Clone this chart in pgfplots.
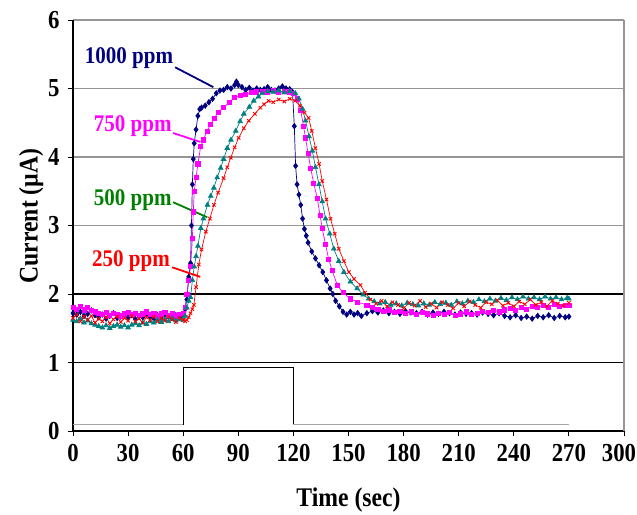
\documentclass[border=0pt]{standalone}
\usepackage{fontspec}
\setmainfont{Liberation Serif}[FakeStretch=0.88]
\usepackage{pgfplots}
\pgfplotsset{compat=1.18}
\definecolor{navyc}{RGB}{0,0,128}
\definecolor{magc}{RGB}{255,0,255}
\definecolor{tealc}{RGB}{0,128,128}
\definecolor{greenc}{RGB}{0,128,0}
\definecolor{redc}{RGB}{255,0,0}
\definecolor{gridc}{RGB}{150,150,150}
\begin{document}
\begin{tikzpicture}
\begin{axis}[name=ax, scale only axis, width=551bp, height=411bp,
 xmin=0,xmax=300,ymin=0,ymax=6,
 xtick={0,30,...,270}, ytick={0,1,...,6},
 extra x ticks={300},
 extra x tick style={xticklabel style={xshift=-5bp}},
 axis lines=left, axis line style={-, line width=1.4pt, black},
 tick align=outside, major tick length=5bp, tick style={black, line width=1pt},
 ymajorgrids, major grid style={gridc, line width=1.3pt},
 /pgf/number format/assume math mode=true,
 tick label style={font=\fontsize{26}{26}\selectfont\bfseries},
 xticklabel style={yshift=-5bp},
 yticklabel style={xshift=-5bp},
 xlabel={Time (sec)}, ylabel={Current (µA)},
 label style={font=\fontsize{27}{27}\selectfont\bfseries},
 xlabel style={at={(axis description cs:0.5,-0.168)}, anchor=center},
 ylabel style={at={(axis description cs:-0.076,0.523)}, anchor=center},
 clip=false,
]
\draw[black, line width=1.6pt] (axis cs:0,1) -- (axis cs:300,1);
\draw[black, line width=1.6pt] (axis cs:0,2) -- (axis cs:300,2);
\draw[gridc, line width=1.3pt] (axis cs:300,0) -- (axis cs:300,6);
% stimulus
\addplot[gray!70, line width=1.3pt] coordinates {(0,0.09)(60,0.09)};
\addplot[black, line width=1.3pt] coordinates {(60,0.09)(60,0.93)(120,0.93)(120,0.09)};
\addplot[gray!70, line width=1.3pt] coordinates {(120,0.09)(270,0.09)};
% 1000 ppm
\addplot[navyc, line width=0.7pt, mark=diamond*, mark size=2.7pt, mark options={solid, fill=navyc}] coordinates {
(0,1.72)(2,1.70)(4,1.74)(6,1.68)(8,1.71)(10,1.76)(12,1.69)(14,1.66)(16,1.70)(18,1.64)(20,1.68)(22,1.72)(24,1.65)(26,1.67)(28,1.70)(30,1.66)(32,1.69)(34,1.63)(36,1.68)(38,1.66)(40,1.70)(42,1.67)(44,1.64)(46,1.69)(48,1.66)(50,1.70)(52,1.67)(54,1.65)(56,1.69)(58,1.66)(60,1.70)
(61,1.78)(62,1.92)(63,2.25)(64,2.45)(64.5,3.0)(65,3.6)(65.5,3.97)(66,4.2)(67,4.4)(68,4.6)(69,4.7)(70,4.72)(72,4.75)(74,4.8)(76,4.85)(78,4.93)(80,4.97)(82,4.98)(84,5.02)(86,5.0)(88,5.05)(89,5.1)(90,5.05)(92,5.02)(94,4.98)(96,5.01)(98,4.97)(100,5.0)(102,4.98)(104,4.99)(106,5.02)(108,4.98)(110,4.97)(112,5.0)(114,5.03)(116,5.0)(118,4.99)(119.5,4.95)
(120.5,4.45)(121.2,3.87)(122,3.6)(123,3.45)(124,3.3)(125,3.1)(126,2.95)(127,2.85)(128,2.75)(130,2.62)(132,2.52)(134,2.42)(136,2.32)(138,2.2)(140,2.08)(141.5,2.0)(143,1.9)(145,1.82)(147,1.74)(149,1.70)(151,1.74)(153,1.70)(155,1.72)(157,1.68)
(160,1.72)(163,1.75)(166,1.73)(169,1.76)(172,1.72)(175,1.74)(178,1.71)(181,1.75)(184,1.73)(187,1.72)(190,1.74)(193,1.70)(196,1.73)(199,1.71)(202,1.74)(205,1.72)(208,1.70)(211,1.73)(214,1.71)(217,1.72)(220,1.70)(223,1.73)(226,1.71)(229,1.69)(232,1.72)(235,1.68)(238,1.66)(241,1.69)(244,1.65)(247,1.67)(250,1.64)(253,1.68)(256,1.66)(259,1.69)(262,1.65)(265,1.68)(268,1.66)(270,1.67)};
% 750 ppm
\addplot[magc, line width=0.7pt, mark=square*, mark size=2.1pt, mark options={solid, fill=magc}] coordinates {
(0,1.80)(2,1.78)(4,1.82)(6,1.77)(8,1.80)(10,1.76)(12,1.74)(14,1.72)(16,1.70)(18,1.73)(20,1.69)(22,1.72)(24,1.70)(26,1.68)(28,1.71)(30,1.73)(32,1.70)(34,1.72)(36,1.69)(38,1.71)(40,1.74)(42,1.70)(44,1.72)(46,1.68)(48,1.71)(50,1.73)(52,1.69)(54,1.71)(56,1.68)(58,1.70)(60,1.72)
(61,1.8)(62,2.0)(63,2.2)(64,2.4)(65,2.81)(65.5,3.2)(66,3.5)(67,3.7)(68,3.9)(69.5,4.15)(71,4.25)(73,4.38)(75,4.48)(77,4.57)(79,4.65)(82,4.72)(85,4.8)(88,4.87)(91,4.9)(94,4.92)(97,4.94)(100,4.95)(103,4.96)(106,4.95)(109,4.97)(112,4.94)(115,4.96)(118,4.95)(120,4.93)
(122,4.85)(124,4.68)(125.5,4.45)(126.6,4.28)(128,4.05)(129.4,3.84)(131,3.62)(133,3.4)(134.5,3.15)(135.7,2.96)(137.5,2.72)(139.2,2.51)(141,2.35)(143.9,2.13)(147,2.02)(151,1.93)(155,1.88)(160,1.84)
(163,1.80)(166,1.78)(169,1.75)(172,1.77)(175,1.73)(178,1.75)(181,1.72)(184,1.74)(187,1.70)(190,1.73)(193,1.71)(196,1.69)(199,1.72)(202,1.70)(205,1.73)(208,1.69)(211,1.71)(214,1.74)(217,1.70)(220,1.72)(223,1.75)(226,1.73)(229,1.76)(232,1.74)(235,1.77)(238,1.79)(241,1.76)(244,1.80)(247,1.78)(250,1.82)(253,1.80)(256,1.84)(259,1.81)(262,1.85)(265,1.82)(268,1.84)(270,1.83)};
% 500 ppm
\addplot[tealc, line width=0.7pt, mark=triangle*, mark size=2.7pt, mark options={solid, fill=tealc}] coordinates {
(0,1.62)(2,1.60)(4,1.64)(6,1.58)(8,1.61)(10,1.57)(12,1.55)(14,1.53)(16,1.51)(18,1.54)(20,1.50)(22,1.53)(24,1.55)(26,1.52)(28,1.54)(30,1.51)(32,1.55)(34,1.57)(36,1.54)(38,1.58)(40,1.56)(42,1.60)(44,1.58)(46,1.62)(48,1.59)(50,1.63)(52,1.60)(54,1.64)(56,1.61)(58,1.63)(60,1.62)
(61,1.68)(62,1.8)(63,1.9)(64,1.95)(65,2.2)(66,2.4)(67,2.55)(68,2.7)(69.6,2.96)(71,3.1)(73.2,3.3)(75,3.43)(76.7,3.55)(78.5,3.7)(80.4,3.84)(82,3.97)(84,4.13)(86,4.25)(88.6,4.38)(91,4.52)(93,4.63)(96,4.73)(98.4,4.82)(101,4.88)(103,4.93)(106,4.96)(109,4.95)(112,4.97)(115,4.94)(118,4.96)(121,4.93)
(123,4.85)(125,4.7)(126.6,4.53)(128.5,4.3)(130.3,4.09)(132,3.85)(133.9,3.6)(135.7,3.35)(137.5,3.1)(139.8,2.88)(142,2.66)(144.7,2.48)(147.5,2.32)(151,2.18)(154.7,2.08)(158,1.99)(161,1.93)
(164,1.89)(167,1.86)(170,1.88)(173,1.84)(176,1.86)(179,1.83)(182,1.87)(185,1.85)(188,1.83)(191,1.86)(194,1.84)(197,1.88)(200,1.85)(203,1.87)(206,1.84)(209,1.89)(212,1.86)(215,1.90)(218,1.88)(221,1.92)(224,1.89)(227,1.93)(230,1.90)(233,1.94)(236,1.91)(239,1.95)(242,1.92)(245,1.96)(248,1.93)(251,1.95)(254,1.92)(257,1.96)(260,1.93)(263,1.95)(266,1.92)(269,1.94)(270,1.93)};
% 250 ppm
\addplot[redc, line width=0.7pt, mark=x, mark size=2.4pt, mark options={solid, line width=0.9pt}] coordinates {
(0,1.65)(2,1.70)(4,1.60)(6,1.67)(8,1.62)(10,1.68)(12,1.58)(14,1.64)(16,1.60)(18,1.66)(20,1.57)(22,1.63)(24,1.67)(26,1.59)(28,1.65)(30,1.61)(32,1.68)(34,1.60)(36,1.64)(38,1.58)(40,1.66)(42,1.62)(44,1.67)(46,1.60)(48,1.65)(50,1.61)(52,1.67)(54,1.63)(56,1.59)(58,1.65)(60,1.62)
(61,1.60)(62,1.62)(63,1.66)(64,1.72)(65,1.78)(65.8,1.84)(67,2.1)(68.5,2.43)(70,2.65)(72.3,2.91)(74.5,3.1)(76.7,3.3)(79,3.48)(82,3.69)(84,3.85)(85.9,3.99)(88,4.14)(90.2,4.28)(93,4.42)(95.7,4.53)(99,4.63)(102,4.72)(104,4.77)(106.5,4.82)(109,4.80)(112,4.84)(115,4.81)(118,4.85)(121,4.82)
(123.5,4.75)(126,4.65)(128.3,4.57)(130,4.38)(132,4.13)(134,3.9)(135.7,3.65)(138,3.38)(140.2,3.1)(142.5,2.88)(144.7,2.66)(147.5,2.48)(150.2,2.32)(153,2.22)(156.5,2.13)(159,2.02)(162,1.92)
(165,1.86)(168,1.90)(171,1.82)(174,1.88)(177,1.84)(180,1.79)(183,1.87)(186,1.83)(189,1.90)(192,1.81)(195,1.86)(198,1.80)(201,1.88)(204,1.84)(207,1.79)(210,1.87)(213,1.82)(216,1.89)(219,1.84)(222,1.80)(225,1.88)(228,1.85)(231,1.91)(234,1.83)(237,1.87)(240,1.82)(243,1.89)(246,1.85)(249,1.92)(252,1.84)(255,1.88)(258,1.82)(261,1.90)(264,1.86)(267,1.83)(270,1.87)};
% annotations
\draw[navyc, line width=1.8pt] (axis cs:55.6,5.31) -- (axis cs:76.4,5.02);
\draw[magc, line width=1.8pt] (axis cs:54.5,4.35) -- (axis cs:69.3,4.22);
\draw[greenc, line width=1.8pt] (axis cs:54.5,3.34) -- (axis cs:73.1,3.12);
\draw[redc, line width=1.8pt] (axis cs:54,2.39) -- (axis cs:69.3,2.25);
\node[navyc, font=\fontsize{24}{24}\selectfont\bfseries] at (axis cs:30.5,5.45) {1000 ppm};
\node[magc, font=\fontsize{24}{24}\selectfont\bfseries] at (axis cs:32.5,4.45) {750 ppm};
\node[greenc, font=\fontsize{24}{24}\selectfont\bfseries] at (axis cs:32.5,3.37) {500 ppm};
\node[redc, font=\fontsize{24}{24}\selectfont\bfseries] at (axis cs:31.6,2.48) {250 ppm};
\end{axis}
\pgfresetboundingbox
\path ([xshift=-73bp,yshift=-84bp]ax.south west) rectangle ([xshift=13bp,yshift=20bp]ax.north east);
\end{tikzpicture}
\end{document}
